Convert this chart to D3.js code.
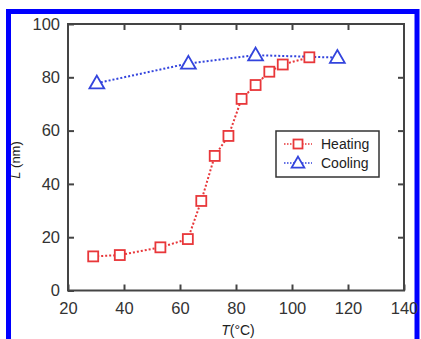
<!DOCTYPE html>
<html>
<head>
<meta charset="utf-8">
<script src="https://cdn.jsdelivr.net/npm/d3@7"></script>
<style>
  body { margin: 0; background: #fff; }
  svg { display: block; font-family: "Liberation Sans", Arial, sans-serif; }
</style>
</head>
<body>
<div id="chart"></div>
<script>
// heating run
const heatT = [29, 38.5, 53, 62.8, 67.6, 72.4, 77.3, 82, 87, 91.9, 96.7, 106.2];
const heatL = [12.8, 13.3, 16.2, 19.3, 33.6, 50.5, 58, 71.9, 77.1, 82.1, 84.8, 87.5];
// cooling run
const coolT = [30.3, 63, 87, 116.2];
const coolL = [77.8, 85.2, 88.3, 87.4];

const xTicks = [20, 40, 60, 80, 100, 120, 140];
const yTicks = [0, 20, 40, 60, 80, 100];
const seriesNames = ['Heating', 'Cooling'];

const W = 421, H = 339;
const m = { left: 68, right: 404, top: 24, bottom: 290.5 };

const svg = d3.select('#chart').append('svg')
  .attr('width', W).attr('height', H);

// blue frame around the figure
svg.append('rect').attr('x', 8.5).attr('y', 11.5)
  .attr('width', 408.5).attr('height', 340)
  .attr('fill', 'none').attr('stroke', '#0000ff').attr('stroke-width', 5);

const x = d3.scaleLinear().domain([20, 140]).range([m.left, m.right]);
const y = d3.scaleLinear().domain([0, 100]).range([m.bottom, m.top]);

const axisColor = '#444';

// axes, ticks pointing inward
const xAxis = svg.append('g').attr('transform', `translate(0,${m.bottom})`)
  .call(d3.axisBottom(x).tickValues(xTicks).tickSize(-6).tickPadding(10));
const yAxis = svg.append('g').attr('transform', `translate(${m.left},0)`)
  .call(d3.axisLeft(y).tickValues(yTicks).tickSize(-6).tickPadding(8));
const xTop = svg.append('g').attr('transform', `translate(0,${m.top})`)
  .call(d3.axisTop(x).tickValues(xTicks.slice(1, -1)).tickSize(-6).tickFormat(''));
const yRight = svg.append('g').attr('transform', `translate(${m.right},0)`)
  .call(d3.axisRight(y).tickValues(yTicks.slice(1, -1)).tickSize(-6).tickFormat(''));

[xAxis, yAxis, xTop, yRight].forEach(g => {
  g.select('.domain').remove();
  g.selectAll('line').attr('stroke', axisColor).attr('stroke-width', 2);
  g.selectAll('text').attr('fill', '#333').style('font-size', '16.5px');
});
xAxis.selectAll('text').attr('dy', '0.8em');

svg.append('rect').attr('x', m.left).attr('y', m.top)
  .attr('width', m.right - m.left).attr('height', m.bottom - m.top)
  .attr('fill', 'none').attr('stroke', axisColor).attr('stroke-width', 2);

// axis titles
const yt = svg.append('text').attr('transform', 'translate(20,160) rotate(-90)')
  .attr('text-anchor', 'middle').attr('fill', '#222').style('font-size', '13px');
yt.append('tspan').attr('font-style', 'italic').text('L');
yt.append('tspan').text(' (nm)');

const xt = svg.append('text').attr('x', 238).attr('y', 335)
  .attr('text-anchor', 'middle').attr('fill', '#222').style('font-size', '14px');
xt.append('tspan').attr('font-style', 'italic').text('T');
xt.append('tspan').text('(°C)');

const red = '#e8373a', blue = '#3344dd';
const line = d3.line().x(d => x(d[0])).y(d => y(d[1]));
const heat = heatT.map((t, i) => [t, heatL[i]]);
const cool = coolT.map((t, i) => [t, coolL[i]]);

svg.append('path').datum(heat).attr('d', line).attr('fill', 'none')
  .attr('stroke', red).attr('stroke-width', 2).attr('stroke-dasharray', '2,2');
svg.append('path').datum(cool).attr('d', line).attr('fill', 'none')
  .attr('stroke', blue).attr('stroke-width', 2).attr('stroke-dasharray', '2,2');

function square(g, cx, cy, sq) {
  g.append('rect').attr('x', cx - sq / 2).attr('y', cy - sq / 2)
    .attr('width', sq).attr('height', sq)
    .attr('fill', '#fff').attr('stroke', red).attr('stroke-width', 1.8);
}
function triangle(g, cx, cy, size) {
  g.append('path').attr('d', d3.symbol().type(d3.symbolTriangle).size(size))
    .attr('transform', `translate(${cx},${cy + 1})`)
    .attr('fill', '#fff').attr('stroke', blue).attr('stroke-width', 1.8);
}

const marks = svg.append('g');
heat.forEach(d => square(marks, x(d[0]), y(d[1]), 10));
cool.forEach(d => triangle(marks, x(d[0]), y(d[1]), 95));

// legend
const lg = svg.append('g');
lg.append('rect').attr('x', 276).attr('y', 131).attr('width', 103).attr('height', 46)
  .attr('fill', '#fff').attr('stroke', '#333').attr('stroke-width', 1.5);
seriesNames.forEach((name, i) => {
  const cy = 144 + i * 19;
  const c = i === 0 ? red : blue;
  lg.append('line').attr('x1', 284).attr('x2', 312).attr('y1', cy).attr('y2', cy)
    .attr('stroke', c).attr('stroke-width', 1.5).attr('stroke-dasharray', '1.5,1.5');
  if (i === 0) square(lg, 298, cy, 9); else triangle(lg, 298, cy, 70);
  lg.append('text').attr('x', 321).attr('y', cy + 5).attr('fill', '#222')
    .style('font-size', '14px').text(name);
});
</script>
</body>
</html>
